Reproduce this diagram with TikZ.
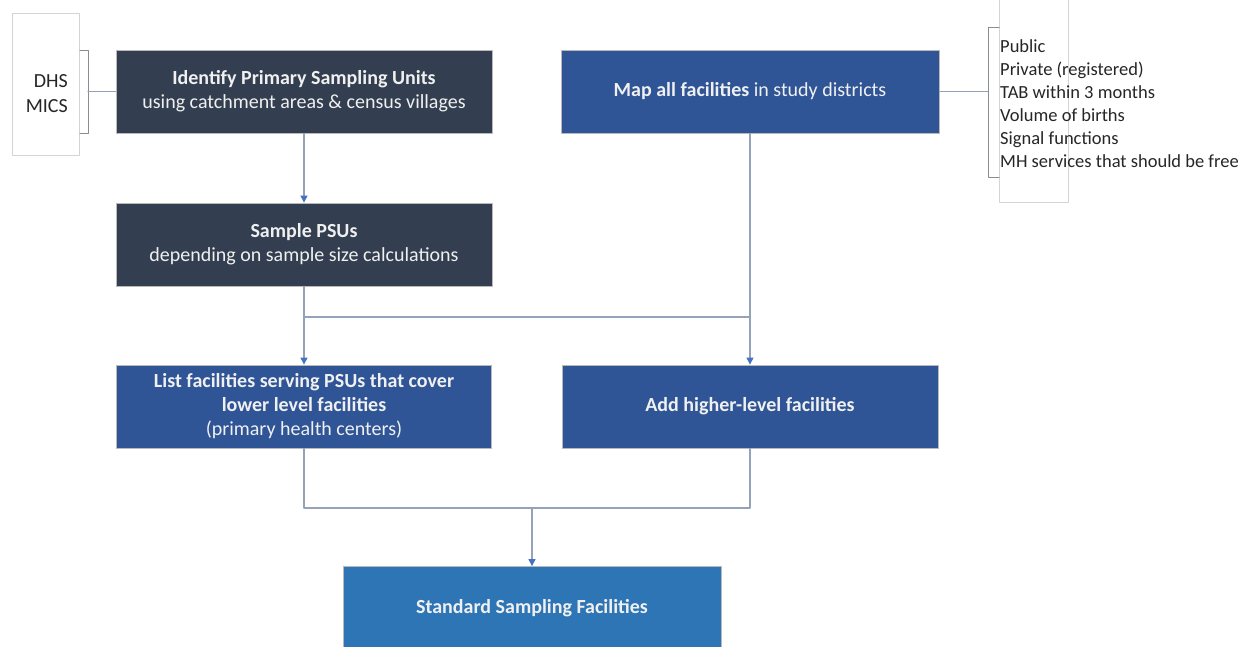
\documentclass[tikz,border=0pt]{standalone}
\usepackage{fontspec}
\setmainfont{Carlito}
\usetikzlibrary{arrows.meta}
\definecolor{navybox}{HTML}{333F50}
\definecolor{bluebox}{HTML}{2F5597}
\definecolor{lightbox}{HTML}{2E75B6}
\definecolor{connline}{HTML}{95A3B8}
\definecolor{arrowblue}{HTML}{4472C4}
\definecolor{framegray}{HTML}{D4D4D4}
\definecolor{bracketgray}{HTML}{8C8C8C}
\tikzset{
  stepbox/.style={rectangle, draw=gray!55, line width=0.8pt, text=white!94!black,
    font=\fontsize{20}{24}\selectfont, align=center, minimum height=83, inner sep=0pt},
  notebox/.style={rectangle, draw=framegray, line width=0.8pt, fill=white, inner sep=0pt},
  notetext/.style={inner sep=0pt, text=black!85},
  conn/.style={draw=connline, line width=1.1pt},
  bracket/.style={draw=bracketgray, line width=1pt}
}
\begin{document}
\begin{tikzpicture}[x=1pt,y=-1pt,line cap=round,line join=round,>={Triangle[length=7pt,width=7pt,color=arrowblue]}]
        \useasboundingbox (0,0) rectangle (1247,646);
        % side notes
        \node[notebox, minimum width=67, minimum height=142] (dhsbg) at (45.5,84) {};
        \node[notetext, anchor=east, align=right, font=\fontsize{20}{25}\selectfont] (dhs) at (68,93.5) {DHS\\MICS};
        \node[notebox, minimum width=69, minimum height=205] (listbg) at (1033.5,99.5) {};
        \node[notetext, anchor=west, align=left, font=\fontsize{18.5}{23}\selectfont] (list) at (1000,103.5)
          {Public\\Private (registered)\\TAB within 3 months\\Volume of births\\Signal functions\\MH services that should be free};
        \draw[bracket] (80,50) -- (88,50) -- (88,133) -- (80,133);
        \draw[bracket] (999,27) -- (988,27) -- (988,177) -- (999,177);
        % main steps
        \node[stepbox, fill=navybox, minimum width=376] (ident) at (304,91.5)
          {\textbf{Identify Primary Sampling Units}\\using catchment areas \& census villages};
        \node[stepbox, fill=navybox, minimum width=376] (sample) at (304,244.5)
          {\textbf{Sample PSUs}\\depending on sample size calculations};
        \node[stepbox, fill=bluebox, minimum width=378] (map) at (750,91.5)
          {\textbf{Map all facilities} in study districts};
        \node[stepbox, fill=bluebox, minimum width=375] (listfac) at (304,406.5)
          {\textbf{List facilities serving PSUs that cover}\\\textbf{lower level facilities}\\(primary health centers)};
        \node[stepbox, fill=bluebox, minimum width=376] (addhi) at (750,406.5)
          {\textbf{Add higher-level facilities}};
        \node[stepbox, fill=lightbox, minimum width=378] (std) at (532,608)
          {\textbf{Standard Sampling Facilities}};
        % connectors
        \coordinate (dhsjoin) at (88,91.5);
        \coordinate (listjoin) at (988,91.5);
        \coordinate (split) at (304,317);
        \coordinate (merge) at (532,508);
        \draw[conn] (dhsjoin) -- (ident.west);
        \draw[conn] (map.east) -- (listjoin);
        \draw[conn,->] (ident) -- (sample);
        \draw[conn,->] (sample) -- (listfac);
        \draw[conn] (split) -- (split -| map.south);
        \draw[conn,->] (map.south) -- (addhi.north);
        \draw[conn] (listfac.south) |- (merge) -| (addhi.south);
        \draw[conn,->] (merge) -- (std);
      \end{tikzpicture}
\end{document}
